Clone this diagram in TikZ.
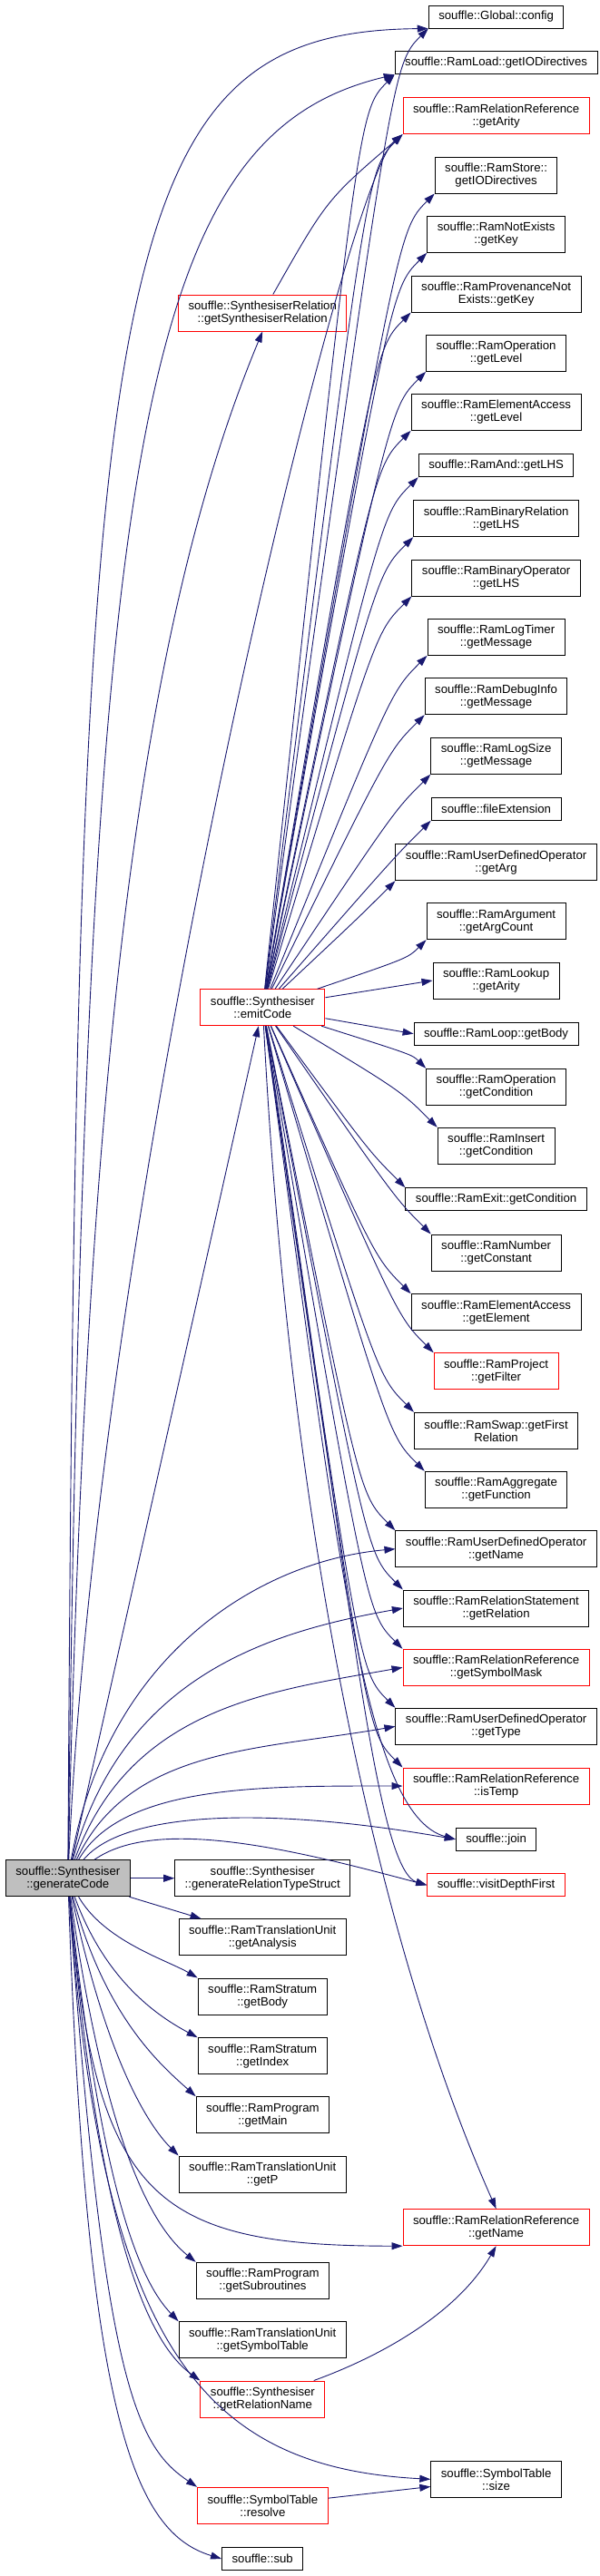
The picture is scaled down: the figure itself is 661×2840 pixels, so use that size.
\documentclass[tikz,border=0pt]{standalone}
\usepackage{fontspec}
\setmainfont{Liberation Sans}
\usetikzlibrary{arrows.meta,calc}
\definecolor{edgeblue}{HTML}{191970}
\definecolor{rootgray}{HTML}{BFBFBF}

\begin{document}
\begin{tikzpicture}[x=1pt, y=1pt,
  font=\fontsize{13.2}{14}\selectfont,
  fnbox/.style={draw=black, line width=1pt, align=center, inner xsep=11pt, inner ysep=3pt, minimum height=25pt},
  fnbox2/.style={fnbox, minimum height=40pt},
  hl/.style={draw=red},
  root/.style={fill=rootgray},
  call/.style={-{Triangle[length=12pt,width=8pt]}, draw=edgeblue, line width=0.9pt}
]
\useasboundingbox (0,0) rectangle (661,-2840);

\node[fnbox2,root] (gen) at (74.8,-2070.7) {souffle::Synthesiser\\::generateCode};

\node[fnbox2,hl] (synrel) at (289.2,-345) {souffle::SynthesiserRelation\\::getSynthesiserRelation};
\node[fnbox2,hl] (emit) at (289.4,-1110.7) {souffle::Synthesiser\\::emitCode};
\node[fnbox2] (reltype) at (289.2,-2070.7) {souffle::Synthesiser\\::generateRelationTypeStruct};
\node[fnbox2] (analysis) at (289.2,-2135.7) {souffle::RamTranslationUnit\\::getAnalysis};
\node[fnbox2] (strbody) at (289.2,-2201) {souffle::RamStratum\\::getBody};
\node[fnbox2] (strindex) at (289.2,-2266.7) {souffle::RamStratum\\::getIndex};
\node[fnbox2] (main) at (289.4,-2331.7) {souffle::RamProgram\\::getMain};
\node[fnbox2] (getp) at (289.2,-2397) {souffle::RamTranslationUnit\\::getP};
\node[fnbox2] (subr) at (289.4,-2514.3) {souffle::RamProgram\\::getSubroutines};
\node[fnbox2] (symtab) at (289.2,-2579.7) {souffle::RamTranslationUnit\\::getSymbolTable};
\node[fnbox2,hl] (relname) at (289.4,-2645) {souffle::Synthesiser\\::getRelationName};
\node[fnbox2,hl] (resolve) at (289.4,-2762.3) {souffle::SymbolTable\\::resolve};
\node[fnbox] (sub) at (289.2,-2821) {souffle::sub};

\node[fnbox] (cfg) at (546.6,-18.5) {souffle::Global::config};
\node[fnbox] (load) at (546.6,-69.3) {souffle::RamLoad::getIODirectives};
\node[fnbox2,hl] (arity) at (546.6,-127.7) {souffle::RamRelationReference\\::getArity};
\node[fnbox2] (store) at (546.6,-193) {souffle::RamStore::\\getIODirectives};
\node[fnbox2] (notex) at (546.6,-258.3) {souffle::RamNotExists\\::getKey};
\node[fnbox2] (pnotex) at (546.6,-324) {souffle::RamProvenanceNot\\Exists::getKey};
\node[fnbox2] (oplevel) at (546.6,-389.3) {souffle::RamOperation\\::getLevel};
\node[fnbox2] (ealevel) at (546.6,-454.3) {souffle::RamElementAccess\\::getLevel};
\node[fnbox] (andlhs) at (546.6,-513.2) {souffle::RamAnd::getLHS};
\node[fnbox2] (brlhs) at (546.6,-571.7) {souffle::RamBinaryRelation\\::getLHS};
\node[fnbox2] (bolhs) at (546.6,-637) {souffle::RamBinaryOperator\\::getLHS};
\node[fnbox2] (logtimer) at (546.6,-702.3) {souffle::RamLogTimer\\::getMessage};
\node[fnbox2] (debug) at (546.6,-767.7) {souffle::RamDebugInfo\\::getMessage};
\node[fnbox2] (logsize) at (546.6,-833.3) {souffle::RamLogSize\\::getMessage};
\node[fnbox] (fileext) at (546.6,-891.7) {souffle::fileExtension};
\node[fnbox2] (udoarg) at (546.6,-950.7) {souffle::RamUserDefinedOperator\\::getArg};
\node[fnbox2] (argcount) at (546.6,-1015.7) {souffle::RamArgument\\::getArgCount};
\node[fnbox2] (lookup) at (546.6,-1081) {souffle::RamLookup\\::getArity};
\node[fnbox] (loopbody) at (546.6,-1139.7) {souffle::RamLoop::getBody};
\node[fnbox2] (opcond) at (546.6,-1198.3) {souffle::RamOperation\\::getCondition};
\node[fnbox2] (inscond) at (546.6,-1263.3) {souffle::RamInsert\\::getCondition};
\node[fnbox] (exitcond) at (546.6,-1322.2) {souffle::RamExit::getCondition};
\node[fnbox2] (numconst) at (546.6,-1381) {souffle::RamNumber\\::getConstant};
\node[fnbox2] (element) at (546.6,-1446.7) {souffle::RamElementAccess\\::getElement};
\node[fnbox2,hl] (filter) at (546.6,-1511.7) {souffle::RamProject\\::getFilter};
\node[fnbox2] (firstrel) at (546.6,-1577.3) {souffle::RamSwap::getFirst\\Relation};
\node[fnbox2] (function) at (546.6,-1642.3) {souffle::RamAggregate\\::getFunction};
\node[fnbox2] (udoname) at (546.6,-1707.7) {souffle::RamUserDefinedOperator\\::getName};
\node[fnbox2] (relstmt) at (546.6,-1773) {souffle::RamRelationStatement\\::getRelation};
\node[fnbox2,hl] (symmask) at (546.6,-1838.3) {souffle::RamRelationReference\\::getSymbolMask};
\node[fnbox2] (udotype) at (546.6,-1903.3) {souffle::RamUserDefinedOperator\\::getType};
\node[fnbox2,hl] (istemp) at (546.6,-1969) {souffle::RamRelationReference\\::isTemp};
\node[fnbox] (join) at (546.6,-2027.8) {souffle::join};
\node[fnbox,hl] (visitdf) at (546.6,-2078.3) {souffle::visitDepthFirst};
\node[fnbox2,hl] (rrname) at (546.6,-2455.7) {souffle::RamRelationReference\\::getName};
\node[fnbox2] (size) at (546.6,-2733.3) {souffle::SymbolTable\\::size};

\foreach \t/\b in {cfg/40,load/40,arity/40,store/40,notex/40,pnotex/40,oplevel/40,ealevel/40,andlhs/40,brlhs/40,bolhs/40,logtimer/40,debug/40,logsize/40,fileext/40,udoarg/40,argcount/20}
  \draw[call] (emit) .. controls ($(\t.south west)+(-\b,-\b)$) .. (\t.south west);
\draw[call] (emit) -- (lookup.west);
\draw[call] (emit) -- (loopbody.west);
\foreach \t/\b in {opcond/15,inscond/40,exitcond/40,numconst/40,element/40,filter/40,firstrel/40,function/40,udoname/40,relstmt/40,symmask/40,udotype/40,istemp/40}
  \draw[call] (emit) .. controls ($(\t.north west)+(-\b,\b)$) .. (\t.north west);
\draw[call] (emit) .. controls (370,-1700) and (400,-2000) .. (join.west);
\draw[call] (emit) .. controls (380,-1700) and (410,-2060) .. (visitdf.west);
\draw[call] (emit) .. controls (320,-1700) and (420,-2150) .. (rrname.north);

\draw[call] (gen) .. controls (85,-300) and (110,-35) .. (cfg.south west);
\draw[call] (gen) .. controls (95,-500) and (150,-150) .. (load.south west);
\draw[call] (gen) .. controls (95,-1200) and (150,-700) .. (synrel.south);
\draw[call] (gen) .. controls (110,-1300) and (380,-200) .. (arity.south west);
\draw[call] (gen) -- (emit);
\draw[call] (synrel) .. controls (360,-220) .. (arity.south west);

\draw[call] (gen) .. controls +(80:250) and +(185:150) .. (udoname.west);
\draw[call] (gen) .. controls +(75:230) and +(190:150) .. (relstmt.west);
\draw[call] (gen) .. controls +(70:200) and +(190:150) .. (symmask.west);
\draw[call] (gen) .. controls +(65:160) and +(190:150) .. (udotype.west);
\draw[call] (gen) .. controls +(60:120) and +(180:150) .. (istemp.west);
\draw[call] (gen) .. controls +(50:100) and +(170:200) .. (join.west);
\draw[call] (gen) .. controls +(35:120) and +(165:150) .. (visitdf.west);

\draw[call] (gen) -- (reltype);
\draw[call] (gen) -- (analysis);
\draw[call] (gen) .. controls +(-60:80) and +(150:40) .. (strbody.north west);
\draw[call] (gen) .. controls +(-70:120) and +(152:50) .. (strindex.north west);
\draw[call] (gen) .. controls +(-75:160) and +(138:50) .. (main.north west);
\draw[call] (gen) .. controls +(-78:200) and +(135:50) .. (getp.north west);
\draw[call] (gen) .. controls +(-85:350) and +(180:280) .. (rrname.south west);
\draw[call] (gen) .. controls +(-82:300) and +(141:60) .. (subr.north west);
\draw[call] (gen) .. controls +(-84:350) and +(134:60) .. (symtab.north west);
\draw[call] (gen) .. controls +(-85:400) and +(144:70) .. (relname.north west);
\draw[call] (gen) .. controls +(-86:520) and +(177:250) .. (size.west);
\draw[call] (gen) .. controls +(-86:560) and +(146:80) .. (resolve.north west);
\draw[call] (gen) .. controls +(-88:600) and +(163:100) .. (sub.west);

\draw[call] (relname) .. controls +(20:150) and +(-120:80) .. (rrname.south);
\draw[call] (resolve) -- (size);
\end{tikzpicture}
\end{document}
